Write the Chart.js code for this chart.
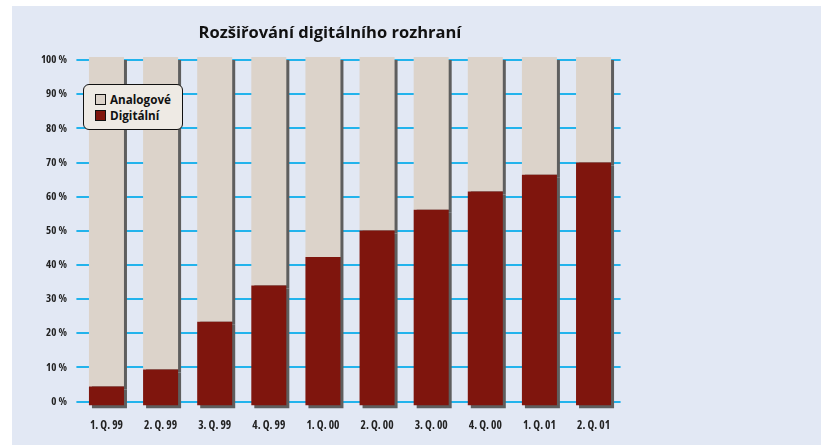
<!DOCTYPE html>
<html><head><meta charset="utf-8">
<script src="https://cdn.jsdelivr.net/npm/chart.js@4.4.1/dist/chart.umd.min.js"></script>
<style>
html,body{margin:0;padding:0;background:#fff;width:821px;height:445px;overflow:hidden;}
#panel{position:absolute;left:12px;top:6px;right:0;bottom:0;background:#e2e8f4;}
#wrap{position:absolute;left:0;top:0;width:664px;height:445px;}
#legend{position:absolute;left:83px;top:84px;width:98px;height:44px;border:1px solid #111;border-radius:6px;background:#eeeae4;font-family:'Open Sans';font-weight:bold;font-size:11.7px;color:#111;}
.row{position:absolute;left:11px;height:16px;line-height:16px;white-space:nowrap;}
.sw{display:inline-block;width:9px;height:9px;border:1px solid #111;vertical-align:middle;margin-right:4px;position:relative;top:-1px;}
</style></head>
<body>
<div id="panel"></div>
<div id="wrap"><canvas id="c" width="664" height="445"></canvas></div>
<div id="legend"></div>
<script>
const categories = ['1. Q. 99','2. Q. 99','3. Q. 99','4. Q. 99','1. Q. 00','2. Q. 00','3. Q. 00','4. Q. 00','1. Q. 01','2. Q. 01'];
const digital = [4.4, 9.4, 23.4, 34.0, 42.3, 50.1, 56.2, 61.5, 66.4, 70.0];
const analog  = [95.6, 90.6, 76.6, 66.0, 57.7, 49.9, 43.8, 38.5, 33.6, 30.0];
const yTickValues = [0,10,20,30,40,50,60,70,80,90,100];
const seriesNames = ['Analogové','Digitální'];
const titleText = 'Rozšiřování digitálního rozhraní';

const BAR_FLOOR = -1.1, BAR_OVERHANG = 0.9;
const COL_ANALOG = '#dcd3ca', COL_DIGITAL = '#7f150d', COL_SHADOW = '#5e5e5e', COL_GRID = '#22b3ec';
const FAMILY = "'Open Sans'";

const shadowPlugin = {
  id:'barShadow',
  beforeDatasetsDraw(chart){const c=chart.ctx;c.save();c.shadowColor=COL_SHADOW;c.shadowOffsetX=3;c.shadowOffsetY=3;c.shadowBlur=0;},
  afterDatasetsDraw(chart){chart.ctx.restore();}
};

const chart = new Chart(document.getElementById('c'), {
  type:'bar',
  data:{
    labels: categories,
    datasets:[
      {label:seriesNames[0], data: digital.map((d,i)=>[d, d+analog[i]+BAR_OVERHANG]), backgroundColor:COL_ANALOG, order:2},
      {label:seriesNames[1], data: digital.map(d=>[BAR_FLOOR, d]), backgroundColor:COL_DIGITAL, order:1}
    ]
  },
  options:{
    responsive:false, animation:false,
    devicePixelRatio:1,
    layout:{padding:{left:39.4,right:43.4,top:0,bottom:0}},
    datasets:{bar:{grouped:false, barPercentage:0.647, categoryPercentage:1, clip:false, borderWidth:0}},
    plugins:{
      legend:{display:false}, tooltip:{enabled:false},
      title:{display:true, text:titleText, color:'#111', font:{family:FAMILY, size:16.5, weight:'bold'}, padding:{top:23.1,bottom:14.1}}
    },
    scales:{
      x:{grid:{display:false, drawTicks:false}, border:{display:false},
         ticks:{color:'#222', font:{family:FAMILY, size:11.5, weight:'bold condensed'}, padding:14, maxRotation:0, autoSkip:false},
         afterFit(s){s.height=39.7;}},
      y:{min:BAR_FLOOR, max:100+BAR_OVERHANG,
         afterBuildTicks(s){s.ticks=yTickValues.map(v=>({value:v}));},
         grid:{color:COL_GRID, lineWidth:2, tickLength:3, tickColor:COL_GRID, drawTicks:true},
         border:{display:false},
         ticks:{color:'#222', font:{family:FAMILY, size:11, weight:'bold condensed'}, padding:9.5, callback:v=>v+' %'},
         afterFit(s){s.width=40;}}
    }
  },
  plugins:[shadowPlugin]
});

// HTML legend built from the datasets
const lg = document.getElementById('legend');
chart.data.datasets.forEach((ds,i)=>{
  const r=document.createElement('div'); r.className='row'; r.style.top=(6+i*16)+'px';
  const s=document.createElement('span'); s.className='sw'; s.style.background=ds.backgroundColor;
  r.appendChild(s); r.appendChild(document.createTextNode(ds.label)); lg.appendChild(r);
});
</script>
</body></html>
